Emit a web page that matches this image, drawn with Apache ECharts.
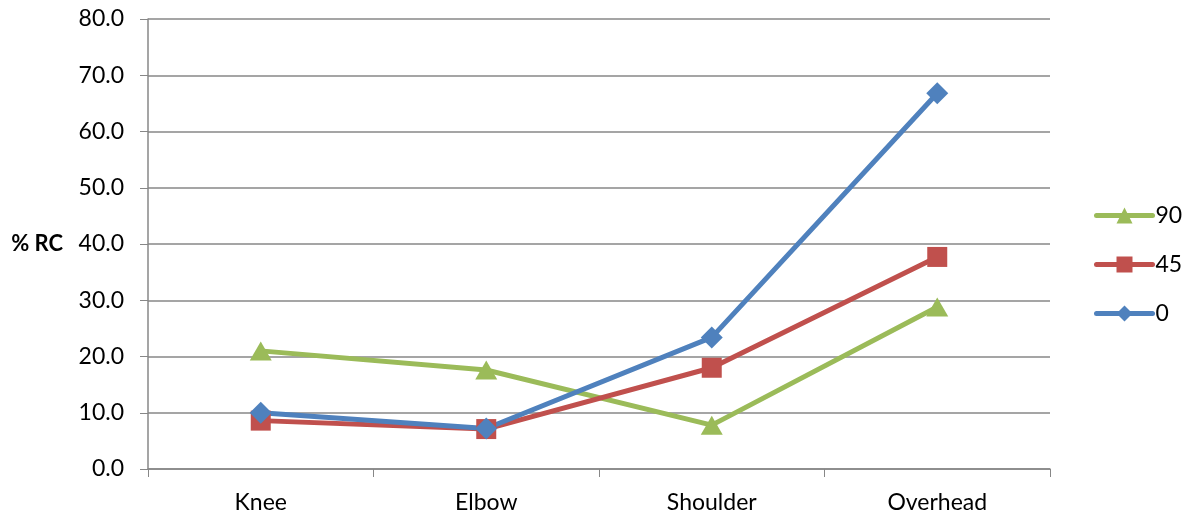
<!DOCTYPE html>
<html>
<head>
<meta charset="utf-8">
<script src="https://cdn.jsdelivr.net/npm/echarts@6/dist/echarts.min.js"></script>
<style>
  html, body { margin: 0; padding: 0; background: #fff; }
  #chart { width: 1182px; height: 517px; }
</style>
</head>
<body>
<div id="chart"></div>
<script>
// Postures along the x axis
const categories = ['Knee', 'Elbow', 'Shoulder', 'Overhead'];
// % RC per posture, one list per angle
const angle0 = [10.0, 7.2, 23.4, 66.8];
const angle45 = [8.6, 7.1, 18.0, 37.7];
const angle90 = [21.0, 17.6, 7.8, 28.8];
// Y axis ticks
const yMin = 0, yMax = 80, yStep = 10;

const FONT = 'Lato, "Open Sans", sans-serif';
const AXIS_GRAY = '#878787';

const chart = echarts.init(document.getElementById('chart'), null, { renderer: 'canvas' });

function lineSeries(name, data, color, symbol, size) {
  return {
    name: name,
    type: 'line',
    data: data,
    symbol: symbol,
    symbolSize: size,
    showAllSymbol: true,
    lineStyle: { color: color, width: 5 },
    itemStyle: { color: color },
    emphasis: { disabled: true },
    animation: false
  };
}

chart.setOption({
  backgroundColor: '#fff',
  textStyle: { fontFamily: FONT },
  grid: { left: 148, right: 132, top: 19, bottom: 48, containLabel: false, outerBoundsMode: 'none' },
  legend: {
    orient: 'vertical',
    left: 1089,
    top: 199,
    itemWidth: 56,
    itemHeight: 20,
    itemGap: 26,
    data: ['90', '45', '0'],
    lineStyle: { width: 5, cap: 'round' },
    textStyle: { fontSize: 23, color: '#000', fontFamily: FONT, padding: [0, 0, 0, -2] }
  },
  xAxis: {
    type: 'category',
    data: categories,
    boundaryGap: true,
    axisLine: { lineStyle: { color: AXIS_GRAY, width: 1.5 } },
    axisTick: { show: true, length: 8, interval: 0, lineStyle: { color: AXIS_GRAY } },
    axisLabel: { fontSize: 23, color: '#000', margin: 22, fontFamily: FONT },
    splitLine: { show: false }
  },
  yAxis: {
    type: 'value',
    min: yMin,
    max: yMax,
    interval: yStep,
    name: '% RC',
    nameLocation: 'middle',
    nameRotate: 0,
    nameGap: 85,
    nameTextStyle: { fontSize: 22, fontWeight: 'bold', color: '#000', fontFamily: FONT },
    axisLine: { show: true, lineStyle: { color: AXIS_GRAY, width: 1.5 } },
    axisTick: { show: true, length: 8, lineStyle: { color: AXIS_GRAY } },
    axisLabel: {
      fontSize: 23, color: '#000', margin: 24, fontFamily: FONT,
      formatter: v => v.toFixed(1)
    },
    splitLine: { show: true, lineStyle: { color: AXIS_GRAY, width: 1.5 } }
  },
  series: [
    lineSeries('90', angle90, '#9BBB59', 'triangle', [22, 19]),
    lineSeries('45', angle45, '#C0504D', 'rect', 20),
    lineSeries('0', angle0, '#4F81BD', 'diamond', 22)
  ]
});
</script>
</body>
</html>
